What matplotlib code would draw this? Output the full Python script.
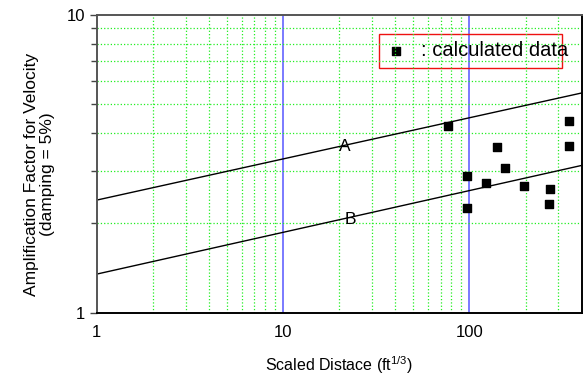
import numpy as np
import matplotlib
matplotlib.use('Agg')
import matplotlib.pyplot as plt
from matplotlib.ticker import LogLocator, NullFormatter, FixedLocator

plt.rcParams['font.family'] = ['Liberation Sans', 'DejaVu Sans']
plt.rcParams['mathtext.fontset'] = 'custom'
plt.rcParams['mathtext.rm'] = 'Liberation Sans'
plt.rcParams['mathtext.it'] = 'Liberation Sans'

# scaled distance vs amplification factor
dist = [77, 97, 97, 123, 140, 155, 196, 270, 266, 342, 342]
amp = [4.25, 2.87, 2.25, 2.72, 3.61, 3.07, 2.66, 2.60, 2.32, 4.41, 3.63]

# fitted lines  y = c * x^k
line_x = [1, 400]
coef_a, coef_b = 2.39, 1.35
slope_a, slope_b = 0.138, 0.14

fig = plt.figure(figsize=(5.84, 3.76), dpi=100)
ax = fig.add_axes([0.1656, 0.1676, 0.996 - 0.1656, 0.961 - 0.1676])
ax.set_xscale('log')
ax.set_yscale('log')
ax.set_xlim(1, 400)
ax.set_ylim(1, 10)

ax.xaxis.set_major_locator(FixedLocator([1, 10, 100]))
ax.xaxis.set_minor_locator(LogLocator(base=10, subs=np.arange(2, 10)))
ax.yaxis.set_major_locator(FixedLocator([1, 10]))
ax.yaxis.set_minor_locator(LogLocator(base=10, subs=np.arange(2, 10)))
ax.xaxis.set_minor_formatter(NullFormatter())
ax.yaxis.set_minor_formatter(NullFormatter())
ax.set_xticklabels(['1', '10', '100'])
ax.set_yticklabels(['1', '10'])

ax.grid(which='minor', color='#22ee22', linestyle=':', linewidth=0.9)
for xv in [10, 100]:
    ax.axvline(xv, color='#6f6fff', linewidth=1.3, zorder=1)

lx = np.array(line_x, dtype=float)
ax.plot(lx, coef_a * lx ** slope_a, color='black', linewidth=1)
ax.plot(lx, coef_b * lx ** slope_b, color='black', linewidth=1)
ax.text(21.5, 3.62, 'A', fontsize=12.5, ha='center', va='center')
ax.text(23, 2.05, 'B', fontsize=12.5, ha='center', va='center')

ax.scatter(dist, amp, marker='s', s=40, color='black', zorder=3, clip_on=False)

# legend box
ax.add_patch(plt.Rectangle((0.5816, 0.821), 0.3773, 0.1145, transform=ax.transAxes,
                           fill=False, edgecolor='#ee1111', linewidth=1))
ax.scatter([0.6172], [0.8787], marker='s', s=30, color='black', transform=ax.transAxes)
ax.text(0.668, 0.8787, ': calculated data', fontsize=14.5, transform=ax.transAxes,
        ha='left', va='center')

ax.tick_params(axis='x', which='both', length=0, pad=9, labelsize=12)
ax.tick_params(axis='y', which='major', length=5, width=1, labelsize=12, color='#444')
ax.tick_params(axis='y', which='minor', length=4, width=1, color='#444')

for side in ['left', 'top']:
    ax.spines[side].set_color('#555555')
    ax.spines[side].set_linewidth(1.4)
for side in ['right', 'bottom']:
    ax.spines[side].set_color('black')
    ax.spines[side].set_linewidth(1.4)

ax.set_xlabel('Scaled Distace (ft$^{1/3}$)', fontsize=11.5, labelpad=10)
fig.text(39.5 / 584, 1 - 174 / 376, 'Amplification Factor for Velocity\n(damping = 5%)',
         fontsize=12.5, rotation=90, ha='center', va='center', multialignment='center',
         linespacing=1.1)

fig.savefig('out.png', dpi=100)
